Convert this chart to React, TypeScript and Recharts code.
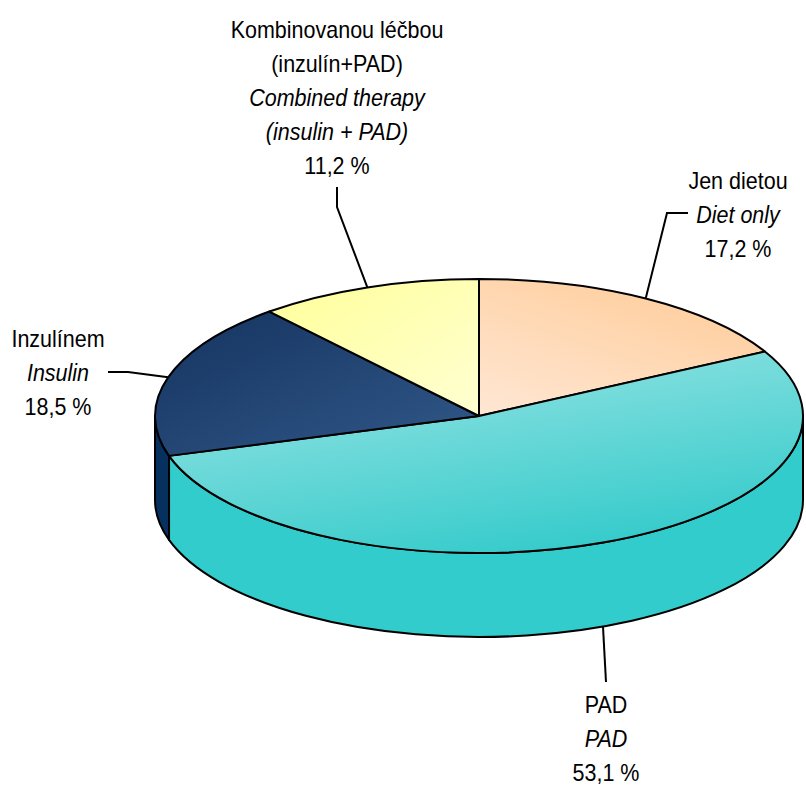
import React from 'react';
import { PieChart, Pie } from 'recharts';

// data (clockwise from 12 o'clock)
const namesCz = [['Jen dietou'], ['PAD'], ['Inzulínem'], ['Kombinovanou léčbou', '(inzulín+PAD)']];
const namesEn = [['Diet only'], ['PAD'], ['Insulin'], ['Combined therapy', '(insulin + PAD)']];
const shares = [17.2, 53.1, 18.5, 11.2];

// look
const topColors = [
  ['#FFE6D2', '#FFCC99'],
  ['#9AE4E4', '#36CBCB'],
  ['#15335F', '#31598A'],
  ['#FFFF99', '#FFFFD2'],
];
const gradDirs = [
  { x1: 0.1, y1: 1, x2: 0.8, y2: 0 },
  { x1: 0.15, y1: 0, x2: 0.6, y2: 1 },
  { x1: 0, y1: 0, x2: 1, y2: 1 },
  { x1: 0, y1: 0, x2: 1, y2: 1 },
];
const wallColors = ['#FFCC99', '#33CCCC', '#06315F', '#FFFF99'];

// label placement: text centre / first baseline, leader elbow and end
const labelLayout = [
  { tx: 738, ty: 188.5, elbow: [667, 213], end: [688, 213] },
  { tx: 606, ty: 713, elbow: [606, 682], end: [606, 682] },
  { tx: 58, ty: 347, elbow: [128, 372], end: [108, 372] },
  { tx: 337, ty: 37.5, elbow: [337, 207], end: [337, 187] },
];

const TILT = 137 / 324;
const DEPTH = 84;
const LINE_H = 34;
const FONT = '"Liberation Sans", Arial, sans-serif';

const tableData = shares.map((v, i) => ({ name: namesCz[i].join(' '), value: v, idx: i }));

const pt = (cx: number, cy: number, rx: number, ry: number, a: number) => {
  const r = (a * Math.PI) / 180;
  return [cx + rx * Math.cos(r), cy - ry * Math.sin(r)];
};

const idxOf = (p: any) => (p.idx ?? p.payload?.idx ?? p.index ?? 0);

const renderSlice = (props: any) => {
  const { cx, cy, outerRadius, startAngle, endAngle } = props;
  const i = idxOf(props);
  const rx = outerRadius;
  const ry = outerRadius * TILT;
  const hi = Math.max(startAngle, endAngle);
  const lo = Math.min(startAngle, endAngle);
  const p1 = pt(cx, cy, rx, ry, hi);
  const p2 = pt(cx, cy, rx, ry, lo);
  const large = hi - lo > 180 ? 1 : 0;
  const top = `M${cx},${cy} L${p1[0]},${p1[1]} A${rx},${ry} 0 ${large} 1 ${p2[0]},${p2[1]} Z`;

  // front side wall = the part of the arc on the lower half of the ellipse
  const walls: string[] = [];
  for (const k of [-2, -1, 0, 1]) {
    const a = Math.max(lo, -180 + 360 * k);
    const b = Math.min(hi, 360 * k);
    if (b > a) {
      const s = pt(cx, cy, rx, ry, b);
      const e = pt(cx, cy, rx, ry, a);
      walls.push(
        `M${s[0]},${s[1]} A${rx},${ry} 0 0 1 ${e[0]},${e[1]} L${e[0]},${e[1] + DEPTH} A${rx},${ry} 0 0 0 ${s[0]},${s[1] + DEPTH} Z`
      );
    }
  }
  const g = gradDirs[i];
  return (
    <g>
      <defs>
        <linearGradient id={`topGrad${i}`} x1={g.x1} y1={g.y1} x2={g.x2} y2={g.y2}>
          <stop offset="0%" stopColor={topColors[i][0]} />
          <stop offset="100%" stopColor={topColors[i][1]} />
        </linearGradient>
      </defs>
      {walls.map((d, j) => (
        <path key={j} d={d} fill={wallColors[i]} stroke="#000" strokeWidth={2} strokeLinejoin="round" />
      ))}
      <path d={top} fill={`url(#topGrad${i})`} stroke="#000" strokeWidth={2} strokeLinejoin="round" />
    </g>
  );
};

const fmt = (v: number) => `${v.toFixed(1).replace('.', ',')} %`;

const renderLabel = (props: any) => {
  const { cx, cy, outerRadius, midAngle } = props;
  const i = idxOf(props);
  const rx = outerRadius;
  const ry = outerRadius * TILT;
  const a = pt(cx, cy, rx, ry, midAngle);
  if (Math.sin((midAngle * Math.PI) / 180) < 0) a[1] += DEPTH;
  const L = labelLayout[i];
  const lines = [
    ...namesCz[i].map((t) => ({ t, it: false })),
    ...namesEn[i].map((t) => ({ t, it: true })),
    { t: fmt(shares[i]), it: false },
  ];
  return (
    <g>
      <polyline
        points={`${a[0]},${a[1]} ${L.elbow[0]},${L.elbow[1]} ${L.end[0]},${L.end[1]}`}
        fill="none"
        stroke="#000"
        strokeWidth={2}
      />
      {lines.map((ln, j) => (
        // slightly condensed, like the narrow face of the original
        <text
          key={j}
          x={0}
          y={0}
          transform={`translate(${L.tx},${L.ty + j * LINE_H}) scale(0.935,1)`}
          textAnchor="middle"
          fontFamily={FONT}
          fontSize={23}
          fontStyle={ln.it ? 'italic' : 'normal'}
          fill="#000"
        >
          {ln.t}
        </text>
      ))}
    </g>
  );
};

export default function App() {
  return (
    <div style={{ position: 'absolute', left: 0, top: 0, width: 806, height: 788, background: '#fff' }}>
      <PieChart width={806} height={788} margin={{ top: 0, right: 0, bottom: 0, left: 0 }}>
        <Pie
          data={tableData}
          dataKey="value"
          nameKey="name"
          cx={479}
          cy={416}
          outerRadius={324}
          startAngle={90}
          endAngle={-270}
          stroke="#000"
          isAnimationActive={false}
          labelLine={false}
          label={renderLabel}
          shape={renderSlice}
          activeShape={renderSlice}
          inactiveShape={renderSlice}
        />
      </PieChart>
    </div>
  );
}
